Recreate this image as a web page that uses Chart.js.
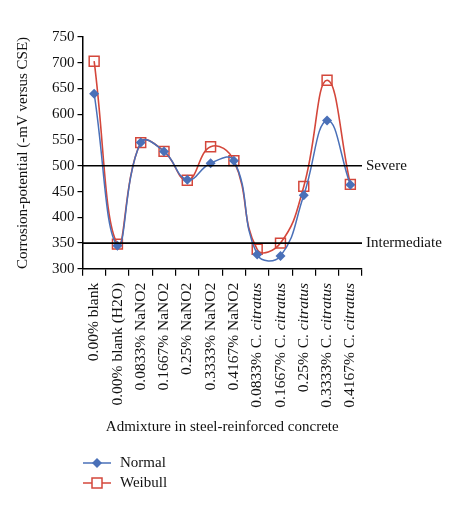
<!DOCTYPE html>
<html>
<head>
<meta charset="utf-8">
<script src="https://cdn.jsdelivr.net/npm/chart.js@4"></script>
<style>
  html, body { margin: 0; padding: 0; background: #fff; }
  #wrap { width: 474px; height: 513px; }
</style>
</head>
<body>
<div id="wrap"><canvas id="corrosion"></canvas></div>
<script>
// category labels: [plain part, italic part]
const categories = [
    ["0.00% blank", ""],
    ["0.00% blank (H2O)", ""],
    ["0.0833% NaNO2", ""],
    ["0.1667% NaNO2", ""],
    ["0.25% NaNO2", ""],
    ["0.3333% NaNO2", ""],
    ["0.4167% NaNO2", ""],
    ["0.0833% C. ", "citratus"],
    ["0.1667% C. ", "citratus"],
    ["0.25% C. ", "citratus"],
    ["0.3333% C. ", "citratus"],
    ["0.4167% C. ", "citratus"],
];
const normalValues = [640, 345, 545, 528, 473, 505, 510, 328, 325, 443, 588, 463];
const weibullValues = [703, 348, 545, 528, 472, 537, 510, 338, 350, 460, 666, 464];
const thresholds = [
    { value: 500, label: "Severe" },
    { value: 350, label: "Intermediate" },
];

const serif = "'Liberation Serif', 'DejaVu Serif', serif";
const blue = "#4a70b8";
const red = "#d4473b";

// threshold lines with their labels on the right
const thresholdPlugin = {
    id: "thresholds",
    afterDatasetsDraw(chart) {
        const { ctx, chartArea, scales } = chart;
        ctx.save();
        ctx.strokeStyle = "#000";
        ctx.lineWidth = 1.6;
        ctx.fillStyle = "#111";
        ctx.font = "15px " + serif;
        ctx.textBaseline = "middle";
        thresholds.forEach((t) => {
            const y = scales.y.getPixelForValue(t.value);
            ctx.beginPath();
            ctx.moveTo(chartArea.left, y);
            ctx.lineTo(chartArea.right, y);
            ctx.stroke();
            ctx.fillText(t.label, chartArea.right + 4, y);
        });
        ctx.restore();
    },
};

// rotated category labels with italic species name
const catLabelPlugin = {
    id: "catLabels",
    afterDraw(chart) {
        const { ctx, scales } = chart;
        const x = scales.x;
        const f = "15.5px " + serif;
        const fi = "italic 15.5px " + serif;
        ctx.save();
        ctx.fillStyle = "#111";
        ctx.textBaseline = "middle";
        categories.forEach((c, i) => {
            const px = x.getPixelForTick(i);
            const top = x.top + 14;
            ctx.font = f;
            const w1 = ctx.measureText(c[0]).width;
            ctx.font = fi;
            const w2 = ctx.measureText(c[1]).width;
            ctx.save();
            ctx.translate(px, top);
            ctx.rotate(-Math.PI / 2);
            ctx.textAlign = "left";
            ctx.font = f;
            ctx.fillText(c[0], -(w1 + w2), 0);
            ctx.font = fi;
            ctx.fillText(c[1], -w2, 0);
            ctx.restore();
        });
        ctx.restore();
    },
};

// legend drawn as line + marker like the original
const legendPlugin = {
    id: "lineLegend",
    afterDraw(chart) {
        const { ctx } = chart;
        const items = [
            { label: "Normal", color: blue, marker: "diamond", y: 463 },
            { label: "Weibull", color: red, marker: "square", y: 483 },
        ];
        ctx.save();
        ctx.font = "15px " + serif;
        ctx.textBaseline = "middle";
        items.forEach((it) => {
            ctx.strokeStyle = it.color;
            ctx.lineWidth = 1.5;
            ctx.beginPath();
            ctx.moveTo(83, it.y);
            ctx.lineTo(111, it.y);
            ctx.stroke();
            if (it.marker === "diamond") {
                ctx.fillStyle = it.color;
                ctx.beginPath();
                ctx.moveTo(97, it.y - 5);
                ctx.lineTo(102, it.y);
                ctx.lineTo(97, it.y + 5);
                ctx.lineTo(92, it.y);
                ctx.closePath();
                ctx.fill();
            } else {
                ctx.fillStyle = "#fff";
                ctx.fillRect(92, it.y - 5, 10, 10);
                ctx.strokeRect(92, it.y - 5, 10, 10);
            }
            ctx.fillStyle = "#111";
            ctx.fillText(it.label, 120, it.y);
        });
        ctx.restore();
    },
};

new Chart(document.getElementById("corrosion"), {
    type: "line",
    data: {
        labels: categories.map((c) => c[0] + c[1]),
        datasets: [
            {
                label: "Normal",
                data: normalValues,
                borderColor: blue,
                backgroundColor: blue,
                borderWidth: 1.5,
                pointStyle: "rectRot",
                pointRadius: 5,
                pointBorderWidth: 0,
                tension: 0.45,
            },
            {
                label: "Weibull",
                data: weibullValues,
                borderColor: red,
                backgroundColor: "rgba(255,255,255,0)",
                borderWidth: 1.6,
                pointStyle: "rect",
                pointRadius: 7,
                pointBorderWidth: 1.5,
                tension: 0.45,
            },
        ],
    },
    options: {
        responsive: true,
        maintainAspectRatio: false,
        animation: false,
        layout: { padding: { top: 37, right: 112, bottom: 73, left: 10 } },
        plugins: {
            legend: { display: false },
            tooltip: { enabled: false },
        },
        scales: {
            x: {
                offset: true,
                border: { color: "#000", width: 1.5 },
                grid: { display: true, offset: true, drawOnChartArea: false, tickLength: 7, color: "#000", lineWidth: 1.2 },
                ticks: {
                    color: "rgba(0,0,0,0)",
                    font: { family: serif, size: 15 },
                    minRotation: 90,
                    maxRotation: 90,
                    autoSkip: false,
                },
                title: {
                    display: true,
                    text: "Admixture in steel-reinforced concrete",
                    color: "#111",
                    font: { family: serif, size: 15 },
                    padding: { top: 17 },
                },
            },
            y: {
                min: 300,
                max: 750,
                border: { color: "#000", width: 1.5 },
                grid: { display: true, drawOnChartArea: false, tickLength: 5, color: "#000", lineWidth: 1.2 },
                ticks: {
                    stepSize: 50,
                    color: "#111",
                    font: { family: serif, size: 15 },
                    padding: 3,
                },
                title: {
                    display: true,
                    text: "Corrosion-potential (-mV versus CSE)",
                    color: "#111",
                    font: { family: serif, size: 15 },
                    padding: { bottom: 17 },
                },
            },
        },
    },
    plugins: [thresholdPlugin, catLabelPlugin, legendPlugin],
});
</script>
</body>
</html>
